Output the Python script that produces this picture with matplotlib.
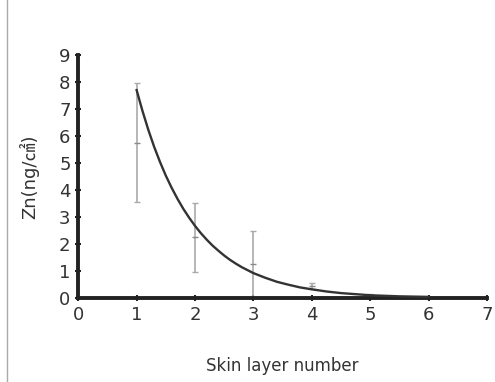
import numpy as np
import matplotlib
matplotlib.use("Agg")
import matplotlib.pyplot as plt
from matplotlib.lines import Line2D

plt.rcParams['font.family'] = ['DejaVu Sans', 'Noto Sans CJK KR']

# measured points (skin layer, mean Zn, error half-width)
layer = [1, 2, 3, 4, 5, 6]
zn_mean = [5.75, 2.25, 1.25, 0.45, 0.10, 0.02]
zn_err = [2.2, 1.28, 1.23, 0.12, 0.06, 0.01]

# fitted curve
fit_x = [1.0, 1.1, 1.2, 1.3, 1.4, 1.5, 1.6, 1.7, 1.8, 1.9, 2.0, 2.1, 2.2,
         2.3, 2.4, 2.5, 2.6, 2.7, 2.8, 2.9, 3.0, 3.2, 3.4, 3.6, 3.8, 4.0,
         4.25, 4.5, 4.75, 5.0, 5.5, 6.0]
fit_y = [7.7, 6.93, 6.23, 5.6, 5.04, 4.53, 4.08, 3.67, 3.3, 2.97, 2.67,
         2.4, 2.16, 1.94, 1.75, 1.57, 1.41, 1.27, 1.14, 1.03, 0.92, 0.75,
         0.6, 0.49, 0.39, 0.32, 0.24, 0.18, 0.14, 0.1, 0.06, 0.04]

xticks = [0, 1, 2, 3, 4, 5, 6, 7]
yticks = [0, 1, 2, 3, 4, 5, 6, 7, 8, 9]

fig = plt.figure(figsize=(4.95, 3.82), dpi=100)
ax = fig.add_axes([0.158, 0.22, 0.826, 0.636])

ax.errorbar(layer, zn_mean, yerr=zn_err, fmt='_', color='#888888',
            ecolor='#aaaaaa', elinewidth=1.2, capsize=2, markersize=5,
            linestyle='none', zorder=2)
ax.plot(fit_x, fit_y, color='#333333', lw=1.7, zorder=3)

ax.set_xlim(0, 7)
ax.set_ylim(0, 9)
ax.set_xticks(xticks)
ax.set_yticks(yticks)
for s in ['top', 'right']:
    ax.spines[s].set_visible(False)
for s in ['left', 'bottom']:
    ax.spines[s].set_linewidth(2.8)
    ax.spines[s].set_color('#222222')
ax.tick_params(direction='inout', length=5, width=1.5, labelsize=13,
               colors='#222222', pad=3)
ax.tick_params(labelcolor='#333333')

ax.set_xlabel('Skin layer number', fontsize=12, color='#333333', labelpad=24)
ax.set_ylabel('Zn(ng/\u33a0)', fontsize=13, color='#333333', labelpad=14)

fig.add_artist(Line2D([0.014, 0.014], [0, 1], transform=fig.transFigure,
                      color='#aaaaaa', lw=1))

fig.savefig('out.png', dpi=100)
